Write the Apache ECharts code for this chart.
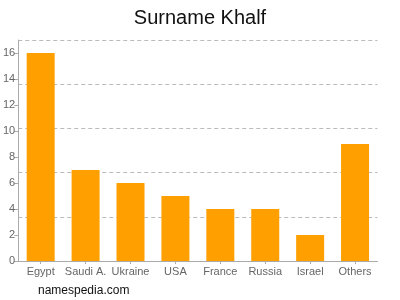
<!DOCTYPE html>
<html><head><meta charset="utf-8">
<script src="https://cdn.jsdelivr.net/npm/echarts@6/dist/echarts.min.js"></script>
<style>html,body{margin:0;padding:0;background:#fff}#c{width:400px;height:300px}</style>
</head><body><div id="c"></div>
<script>
const categories = ["Egypt","Saudi A.","Ukraine","USA","France","Russia","Israel","Others"];
const counts = [16,7,6,5,4,4,2,9];
const yTicks = [0,2,4,6,8,10,12,14,16];
const gridLines = [3.4,6.8,10.2,13.6,17];
const yMax = 17;

const chart = echarts.init(document.getElementById('c'), null, {renderer:'canvas'});
chart.setOption({
  animation:false,
  title:{text:'Surname Khalf',left:'center',top:3,textStyle:{fontFamily:'Liberation Sans, Arial, sans-serif',fontSize:20,fontWeight:'normal',color:'#111'}},
  graphic:[{type:'text',left:38,top:285,style:{text:'namespedia.com',font:'12px "Liberation Sans", Arial, sans-serif',fill:'#111'}}],
  grid:{left:17.5,right:22.5,top:40,bottom:39,containLabel:false},
  xAxis:{type:'category',data:categories,
    axisLine:{lineStyle:{color:'#aaa'}},
    axisTick:{show:true,alignWithLabel:true,length:3,lineStyle:{color:'#aaa'}},
    axisLabel:{color:'#666',fontSize:11,fontFamily:'Liberation Sans, Arial, sans-serif',margin:5,interval:0}},
  yAxis:[{type:'value',min:0,max:yMax,
    axisLine:{show:true,lineStyle:{color:'#aaa'}},
    axisTick:{show:true,length:4,customValues:yTicks,lineStyle:{color:'#aaa'}},
    axisLabel:{color:'#666',fontSize:11,fontFamily:'Liberation Sans, Arial, sans-serif',margin:3,customValues:yTicks},
    splitLine:{show:false}},
   {type:'value',min:0,max:yMax,position:'left',
    axisLine:{show:false},axisTick:{show:false},axisLabel:{show:false},
    splitLine:{show:true,lineStyle:{color:'#bbb',type:[4,3],width:1}},
    splitNumber:5,interval:3.4}],
  series:[{type:'bar',data:counts,barWidth:28,itemStyle:{color:'#FFA000'},yAxisIndex:0}]
});
</script></body></html>
